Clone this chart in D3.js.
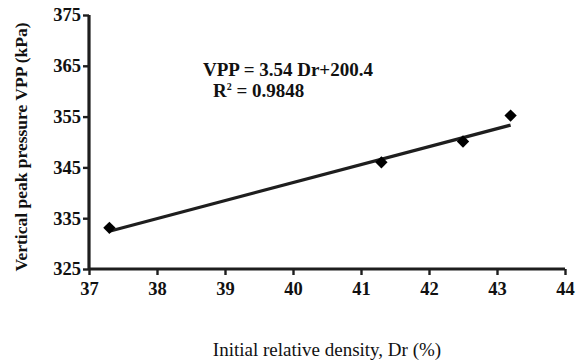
<!DOCTYPE html>
<html>
<head>
<meta charset="utf-8">
<script src="https://cdn.jsdelivr.net/npm/d3@7"></script>
<style>
  html, body { margin: 0; padding: 0; background: #fff; }
  svg { display: block; }
  text { font-family: "Liberation Serif", "Times New Roman", serif; fill: #111; }
</style>
</head>
<body>
<svg id="chart" width="577" height="364"></svg>
<script>
// Measured relative density vs. vertical peak pressure
const densities = [37.3, 41.3, 42.5, 43.2];
const pressures = [333.1, 346.0, 350.1, 355.2];

// Linear fit: VPP = slope * Dr + intercept
const slope = 3.54;
const intercept = 200.4;
const rSquared = "0.9848";

const xTicks = [37, 38, 39, 40, 41, 42, 43, 44];
const yTicks = [325, 335, 345, 355, 365, 375];

const svg = d3.select("#chart");
const ink = "#1e1e1e";

const x = d3.scaleLinear().domain([37, 44]).range([89, 565]);
const y = d3.scaleLinear().domain([325, 375]).range([269, 15]);

// Axes
const xAxis = svg.append("g")
  .attr("transform", `translate(0,${y(325)})`)
  .call(d3.axisBottom(x).tickValues(xTicks).tickSize(6).tickPadding(7).tickFormat(d3.format("d")));
const yAxis = svg.append("g")
  .attr("transform", `translate(${x(37)},0)`)
  .call(d3.axisLeft(y).tickValues(yTicks).tickSize(6).tickPadding(2).tickFormat(d3.format("d")));

[xAxis, yAxis].forEach(g => {
  g.attr("font-family", null);
  g.select(".domain").attr("stroke", ink).attr("stroke-width", 3.2).attr("d",
    g === xAxis ? `M${x(37)},0H${x(44)}` : `M0,${y(325)}V${y(375)}`);
  g.selectAll(".tick line").attr("stroke", ink).attr("stroke-width", 2.4);
  g.selectAll(".tick text")
    .attr("fill", "#111")
    .style("font-family", '"Liberation Serif", serif')
    .style("font-weight", "bold")
    .style("font-size", "18.5px");
});

// Fitted line across the measured range
const xMin = d3.min(densities), xMax = d3.max(densities);
svg.append("line")
  .attr("x1", x(xMin)).attr("y1", y(slope * xMin + intercept))
  .attr("x2", x(xMax)).attr("y2", y(slope * xMax + intercept))
  .attr("stroke", ink).attr("stroke-width", 3.2);

// Data markers (diamonds)
const diamond = d3.symbol().type(d3.symbolSquare).size(76);
svg.append("g").selectAll("path")
  .data(densities.map((d, i) => [d, pressures[i]]))
  .join("path")
  .attr("d", diamond)
  .attr("transform", d => `translate(${x(d[0])},${y(d[1])}) rotate(45)`)
  .attr("fill", "#000");

// Regression equation
svg.append("text")
  .attr("x", 203).attr("y", 76)
  .style("font-weight", "bold").style("font-size", "19px")
  .text(`VPP = ${slope} Dr+${intercept}`);
const r2 = svg.append("text")
  .attr("x", 213).attr("y", 97)
  .style("font-weight", "bold").style("font-size", "19px");
r2.append("tspan").text("R");
r2.append("tspan").attr("dy", -7).style("font-size", "10px").text("2");
r2.append("tspan").attr("dy", 7).text(` = ${rSquared}`);

// Axis titles
svg.append("text")
  .attr("x", 327).attr("y", 356)
  .attr("text-anchor", "middle")
  .style("font-size", "19px")
  .text("Initial relative density, Dr (%)");
svg.append("text")
  .attr("transform", `translate(27,147) rotate(-90)`)
  .attr("text-anchor", "middle")
  .style("font-weight", "bold").style("font-size", "17.5px")
  .text("Vertical peak pressure VPP (kPa)");
</script>
</body>
</html>
